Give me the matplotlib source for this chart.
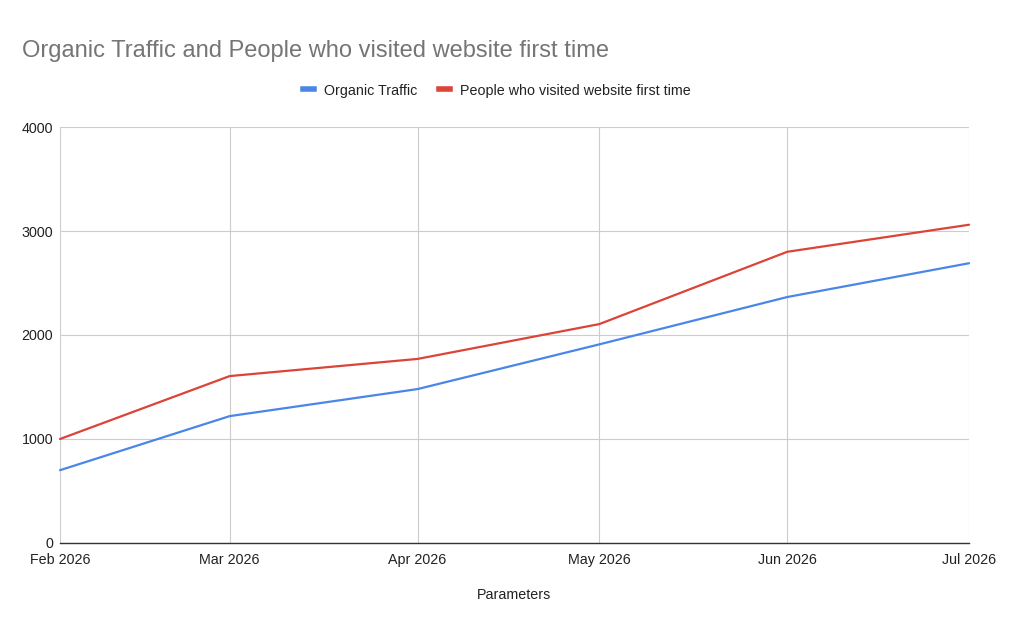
import matplotlib
matplotlib.use("Agg")
import matplotlib.pyplot as plt
import matplotlib.dates as mdates
from matplotlib.lines import Line2D
import datetime as dt

months = ["2026-02-01", "2026-03-01", "2026-04-01", "2026-05-01", "2026-06-01", "2026-07-01"]
organic_traffic = [700, 1220, 1480, 1910, 2365, 2690]
first_time_visitors = [1000, 1605, 1770, 2105, 2800, 3060]
y_ticks = [0, 1000, 2000, 3000, 4000]

dates = [dt.datetime.strptime(m, "%Y-%m-%d") for m in months]

plt.rcParams['font.family'] = ['Liberation Sans', 'DejaVu Sans']

W, H = 1010, 624
fig = plt.figure(figsize=(W / 100, H / 100), dpi=100)
ax = fig.add_axes([60 / W, (H - 543) / H, (969 - 60) / W, (543 - 127) / H])

blue = '#4a86e8'
red = '#db4437'
ax.plot(dates, organic_traffic, color=blue, lw=1.6, solid_capstyle='round', zorder=3, clip_on=False)
ax.plot(dates, first_time_visitors, color=red, lw=1.6, solid_capstyle='round', zorder=3, clip_on=False)

ax.set_xlim(dates[0], dates[-1])
ax.set_ylim(0, 4000)
ax.set_yticks(y_ticks)
ax.set_xticks(dates)
ax.xaxis.set_major_formatter(mdates.DateFormatter('%b %Y'))

ax.grid(True, color='#cccccc', lw=0.8)
ax.set_axisbelow(True)
for s in ['top', 'right', 'left']:
    ax.spines[s].set_visible(False)
ax.spines['bottom'].set_color('#333333')
ax.spines['bottom'].set_linewidth(1.0)
ax.spines['bottom'].set_zorder(4)
ax.tick_params(axis='both', length=0, labelsize=10.3, colors='#222222')
ax.tick_params(axis='x', pad=7)
ax.tick_params(axis='y', pad=5)

ax.set_xlabel('Parameters', fontsize=10.3, color='#222222', labelpad=15)

fig.text(22 / W, 1 - 51.5 / H, 'Organic Traffic and People who visited website first time',
         fontsize=17, color='#757575', ha='left', va='center')

handles = [Line2D([0], [0], color=blue, lw=4), Line2D([0], [0], color=red, lw=4)]
leg = fig.legend(handles, ['Organic Traffic', 'People who visited website first time'],
                 loc='center', bbox_to_anchor=(497 / W, 1 - 90.5 / H), ncol=2, frameon=False,
                 fontsize=10.3, handlelength=0.75, handletextpad=0.75, columnspacing=1.5)
for t in leg.get_texts():
    t.set_color('#222222')

fig.savefig('out.png', dpi=100, facecolor='white')
